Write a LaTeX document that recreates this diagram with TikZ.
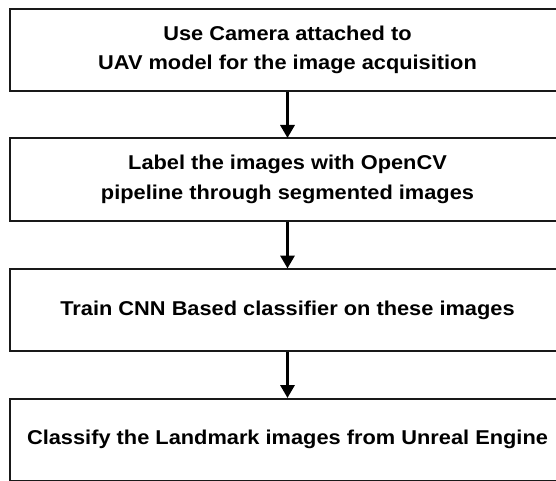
\documentclass[tikz,border=0pt]{standalone}
\usepackage{fontspec}
\setmainfont{Liberation Sans}[FakeStretch=1.09]
\usetikzlibrary{arrows.meta}
\begin{document}
\begin{tikzpicture}[x=1pt,y=-1pt,
  stepbox/.style={draw=black!90, line width=2pt, fill=white, minimum width=555pt, minimum height=82pt,
    inner sep=0pt, align=center, font=\fontsize{20}{29.5}\selectfont\bfseries},
  flow/.style={line width=3.2pt, -{Triangle[width=14pt,length=13pt]}, shorten >=-0.5pt}]
\useasboundingbox (0,0) rectangle (556,481);
\node[stepbox] (a) at (287.5,50) {\raisebox{-2pt}{Use Camera attached to}\\\raisebox{-2pt}{UAV model for the image acquisition}};
\node[stepbox] (b) at (287.5,179.5) {Label the images with OpenCV\\pipeline through segmented images};
\node[stepbox] (c) at (287.5,310) {Train CNN Based classifier on these images};
\node[stepbox] (d) at (287.5,439.5) {Classify the Landmark images from Unreal Engine};
\draw[flow] (a.south) -- (b.north);
\draw[flow] (b.south) -- (c.north);
\draw[flow] (c.south) -- (d.north);
\end{tikzpicture}
\end{document}
